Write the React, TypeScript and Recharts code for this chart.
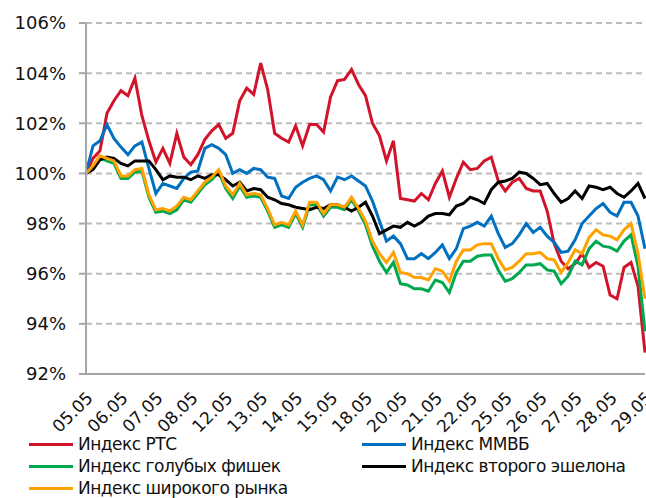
import React from 'react';
import { LineChart, Line, XAxis, YAxis, CartesianGrid } from 'recharts';

const days = ['05.05', '06.05', '07.05', '08.05', '12.05', '13.05', '14.05', '15.05', '18.05', '20.05', '21.05', '22.05', '25.05', '26.05', '27.05', '28.05', '29.05'];
const STEP = 5;
const yTicks = [92, 94, 96, 98, 100, 102, 104, 106];

const rts = [
  100.0, 100.6, 100.9, 102.4, 102.9, 103.3, 103.1, 103.8, 102.3, 101.3,
  100.45, 101.0, 100.4, 101.6, 100.65, 100.35, 100.75, 101.35, 101.7, 101.95,
  101.4, 101.6, 102.9, 103.4, 103.15, 104.4, 103.35, 101.6, 101.4, 101.25,
  101.9, 101.1, 101.95, 101.95, 101.65, 103.05, 103.7, 103.75, 104.15, 103.55,
  103.1, 102.0, 101.5, 100.5, 101.3, 99.0, 98.95, 98.9, 99.2, 98.95,
  99.6, 100.1, 99.05, 99.8, 100.45, 100.15, 100.2, 100.5, 100.65, 99.7,
  99.3, 99.65, 99.8, 99.4, 99.3, 99.3, 98.5, 97.2, 96.5, 96.2,
  96.4, 96.8, 96.25, 96.45, 96.3, 95.15, 95.0, 96.25, 96.45, 95.5,
  92.85,
];

const micex = [
  100.0, 101.1, 101.3, 101.95, 101.4, 101.05, 100.75, 101.1, 101.25, 100.2,
  99.2, 99.6, 99.5, 99.4, 99.8, 100.05, 100.1, 101.0, 101.15, 101.0,
  100.75, 100.0, 100.15, 100.0, 100.2, 100.15, 99.85, 99.8, 99.1, 99.0,
  99.45, 99.65, 99.8, 99.9, 99.75, 99.3, 99.85, 99.75, 99.9, 99.7,
  99.5, 98.9, 98.1, 97.3, 97.5, 97.2, 96.6, 96.6, 96.8, 96.6,
  96.85, 97.15, 96.6, 97.0, 97.8, 97.9, 98.05, 97.9, 98.3, 97.6,
  97.05, 97.2, 97.55, 98.0, 97.65, 97.85, 97.5, 97.25, 96.85, 96.9,
  97.35, 98.0, 98.3, 98.6, 98.8, 98.45, 98.3, 98.85, 98.85, 98.3,
  97.0,
];

const blueChips = [
  100.0, 100.25, 100.6, 100.5, 100.4, 99.8, 99.8, 100.05, 100.1, 99.05,
  98.45, 98.5, 98.4, 98.55, 98.95, 98.85, 99.2, 99.55, 99.75, 100.05,
  99.4, 99.0, 99.5, 99.05, 99.1, 99.05, 98.5, 97.85, 97.95, 97.85,
  98.4, 97.85, 98.75, 98.75, 98.3, 98.65, 98.65, 98.55, 98.95, 98.5,
  97.95, 97.1, 96.5, 96.05, 96.45, 95.6, 95.55, 95.4, 95.4, 95.3,
  95.75, 95.65, 95.25, 96.05, 96.5, 96.5, 96.7, 96.75, 96.75, 96.15,
  95.7, 95.8, 96.05, 96.35, 96.35, 96.4, 96.15, 96.1, 95.6, 95.9,
  96.5, 96.35, 97.0, 97.3, 97.1, 97.05, 96.9, 97.3, 97.55, 96.3,
  93.7,
];

const secondTier = [
  100.0, 100.15, 100.55, 100.65, 100.6, 100.4, 100.3, 100.5, 100.5, 100.5,
  100.15, 99.75, 99.9, 99.85, 99.85, 99.75, 99.9, 99.8, 99.95, 99.95,
  99.75, 99.5, 99.65, 99.3, 99.4, 99.35, 99.05, 98.95, 98.8, 98.75,
  98.65, 98.6, 98.55, 98.65, 98.6, 98.75, 98.75, 98.65, 98.5, 98.65,
  98.85, 98.3, 97.6, 97.75, 97.9, 97.85, 98.05, 97.9, 98.05, 98.3,
  98.4, 98.4, 98.35, 98.7, 98.8, 99.05, 98.95, 98.8, 99.35, 99.65,
  99.7, 99.8, 100.05, 100.0, 99.8, 99.55, 99.6, 99.2, 98.85, 99.0,
  99.3, 99.0, 99.5, 99.45, 99.35, 99.45, 99.2, 99.05, 99.3, 99.6,
  99.0,
];

const broadMarket = [
  100.0, 100.3, 100.7, 100.6, 100.5, 99.9, 99.9, 100.15, 100.2, 99.15,
  98.55, 98.6, 98.5, 98.7, 99.05, 98.95, 99.3, 99.65, 99.85, 100.15,
  99.5, 99.15, 99.6, 99.15, 99.2, 99.15, 98.6, 97.95, 98.05, 97.95,
  98.5, 97.95, 98.85, 98.85, 98.4, 98.75, 98.75, 98.65, 99.05, 98.6,
  98.1, 97.3, 96.8, 96.45, 96.85, 96.05, 96.0, 95.85, 95.85, 95.75,
  96.2, 96.1, 95.7, 96.5, 96.95, 96.95, 97.15, 97.2, 97.2, 96.6,
  96.15, 96.25, 96.5, 96.8, 96.8, 96.85, 96.6, 96.55, 96.05, 96.45,
  96.95, 96.8, 97.45, 97.75, 97.55, 97.5, 97.35, 97.75, 98.0, 96.8,
  95.0,
];

const seriesNames: Record<string, string> = {
  rts: 'Индекс РТС',
  micex: 'Индекс ММВБ',
  blue: 'Индекс голубых фишек',
  second: 'Индекс второго эшелона',
  broad: 'Индекс широкого рынка',
};

const colors: Record<string, string> = {
  rts: '#D2142B',
  micex: '#0070C0',
  blue: '#00A84F',
  second: '#000000',
  broad: '#FFA200',
};

const data = rts.map((v, i) => ({
  i,
  rts: v,
  micex: micex[i],
  blue: blueChips[i],
  second: secondTier[i],
  broad: broadMarket[i],
}));

const FONT = '"DejaVu Sans", Verdana, sans-serif';

const DateTick = (props: any) => {
  const { x, y, payload } = props;
  const label = days[Math.round(payload.value / STEP)];
  const px = x + 8;
  const py = y + 23;
  return (
    <text
      x={px}
      y={py}
      transform={`rotate(-45 ${px} ${py})`}
      textAnchor="end"
      fontSize={17}
      fontFamily={FONT}
      fill="#111"
    >
      {label}
    </text>
  );
};

const legendItems: Array<{ key: string; col: number; row: number }> = [
  { key: 'rts', col: 0, row: 0 },
  { key: 'micex', col: 1, row: 0 },
  { key: 'blue', col: 0, row: 1 },
  { key: 'second', col: 1, row: 1 },
  { key: 'broad', col: 0, row: 2 },
];

const ChartLegend = () => {
  const colX = [29, 362];
  return (
    <div style={{ position: 'absolute', left: 0, top: 433, width: 646, height: 66 }}>
      {legendItems.map((it) => (
        <div
          key={it.key}
          style={{
            position: 'absolute',
            left: colX[it.col],
            top: it.row * 22,
            height: 22,
            display: 'flex',
            alignItems: 'center',
            whiteSpace: 'nowrap',
          }}
        >
          <span
            style={{
              display: 'inline-block',
              width: 44,
              height: 3,
              background: colors[it.key],
              marginRight: 5,
            }}
          />
          <span style={{ fontFamily: FONT, fontSize: 17, color: '#111', letterSpacing: -0.5 }}>
            {seriesNames[it.key]}
          </span>
        </div>
      ))}
    </div>
  );
};

export default function App() {
  return (
    <div style={{ position: 'absolute', left: 0, top: 0, width: 646, height: 498, background: '#fff', overflow: 'hidden' }}>
      <LineChart
        width={646}
        height={498}
        data={data}
        margin={{ top: 23, right: 1, left: 0, bottom: 0 }}
      >
        <CartesianGrid
          vertical={false}
          stroke="#BDBDBD"
          strokeWidth={2}
          strokeDasharray="6 4"
        />
        <XAxis
          dataKey="i"
          type="number"
          domain={[0, 80]}
          ticks={days.map((_, k) => k * STEP)}
          interval={0}
          tick={<DateTick />}
          tickLine={false}
          tickSize={0}
          height={124}
          axisLine={{ stroke: '#A6A6A6', strokeWidth: 2 }}
          allowDecimals={false}
        />
        <YAxis
          domain={[92, 106]}
          ticks={yTicks}
          interval={0}
          width={86}
          tickSize={7}
          tickMargin={13}
          tickLine={{ stroke: '#A6A6A6', strokeWidth: 2 }}
          axisLine={{ stroke: '#A6A6A6', strokeWidth: 2 }}
          tickFormatter={(v: number) => `${v}%`}
          tick={{ fontSize: 18, fontFamily: FONT, fill: '#111' }}
        />
        <Line dataKey="rts" stroke={colors.rts} strokeWidth={3} dot={false} isAnimationActive={false} />
        <Line dataKey="micex" stroke={colors.micex} strokeWidth={3} dot={false} isAnimationActive={false} />
        <Line dataKey="blue" stroke={colors.blue} strokeWidth={3} dot={false} isAnimationActive={false} />
        <Line dataKey="second" stroke={colors.second} strokeWidth={3} dot={false} isAnimationActive={false} />
        <Line dataKey="broad" stroke={colors.broad} strokeWidth={3} dot={false} isAnimationActive={false} />
      </LineChart>
      <ChartLegend />
    </div>
  );
}
